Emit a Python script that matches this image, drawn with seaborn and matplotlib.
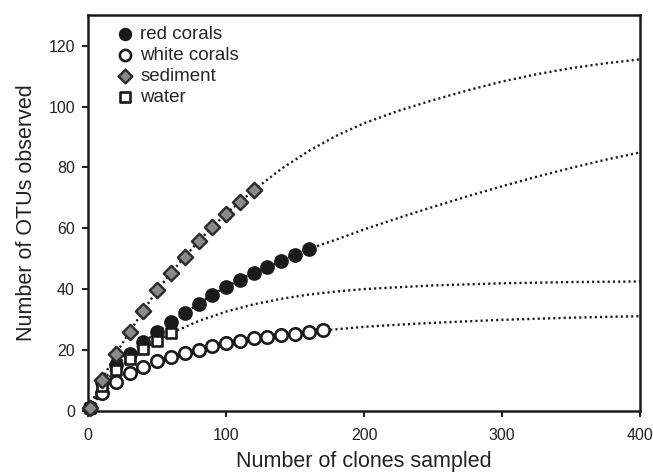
import matplotlib
matplotlib.use("Agg")
import matplotlib.pyplot as plt
import pandas as pd
import seaborn as sns

# ---- observed rarefaction points ----
red_x = [1, 10, 20, 30, 40, 50, 60, 70, 80, 90, 100, 110, 120, 130, 140, 150, 160]
red_y = [1, 9.5, 15.0, 18.8, 22.5, 25.8, 29.2, 32.1, 35.1, 38.2, 40.7, 43.1, 45.3, 47.2, 49.2, 51.2, 53.2]

white_x = [1, 10, 20, 30, 40, 50, 60, 70, 80, 90, 100, 110, 120, 130, 140, 150, 160, 170]
white_y = [1, 5.8, 9.4, 12.4, 14.4, 16.2, 17.7, 19.0, 20.1, 21.2, 22.3, 23.1, 23.9, 24.3, 24.8, 25.3, 25.9, 26.4]

sed_x = [1, 10, 20, 30, 40, 50, 60, 70, 80, 90, 100, 110, 120]
sed_y = [1, 10.2, 18.7, 25.9, 32.9, 39.6, 45.3, 50.6, 55.7, 60.4, 64.8, 68.6, 72.5]

water_x = [1, 10, 20, 30, 40, 50, 60]
water_y = [1, 8.0, 13.5, 17.1, 20.3, 23.1, 25.5]

# ---- extrapolated curves (dotted) ----
red_ext_x = [180, 200, 225, 250, 275, 300, 325, 350, 375, 400]
red_ext_y = [56.3, 59.6, 63.4, 67.0, 70.5, 73.8, 76.9, 79.8, 82.5, 84.9]

white_ext_x = [185, 200, 225, 250, 275, 300, 350, 400]
white_ext_y = [27.0, 27.6, 28.3, 28.9, 29.4, 29.9, 30.6, 31.1]

sed_ext_x = [140, 160, 180, 200, 225, 250, 275, 300, 325, 350, 375, 400]
sed_ext_y = [79.5, 85.4, 90.4, 94.5, 98.6, 102.1, 105.3, 108.2, 110.6, 112.6, 114.2, 115.5]

water_ext_x = [80, 100, 120, 140, 160, 180, 200, 250, 300, 350, 400]
water_ext_y = [29.5, 32.6, 35.0, 36.8, 38.2, 39.2, 40.0, 41.2, 41.9, 42.3, 42.5]

labels = ["red corals", "white corals", "sediment", "water"]

sns.set_style("ticks")
plt.rcParams["font.family"] = ["Liberation Sans", "DejaVu Sans"]

fig = plt.figure(figsize=(6.53, 4.76), dpi=100)
ax = fig.add_axes([0.135, 0.137, 0.845, 0.831])

series = [
    ("red corals", red_x, red_y, red_ext_x, red_ext_y),
    ("white corals", white_x, white_y, white_ext_x, white_ext_y),
    ("water", water_x, water_y, water_ext_x, water_ext_y),
    ("sediment", sed_x, sed_y, sed_ext_x, sed_ext_y),
]

for name, x, y, ex, ey in series:
    line_df = pd.DataFrame({"x": list(x) + list(ex), "y": list(y) + list(ey)})
    sns.lineplot(data=line_df, x="x", y="y", ax=ax, color="#1a1a1a",
                 linewidth=1.7, linestyle=(0, (0.9, 1.3)), sort=False,
                 estimator=None, zorder=2)

styles = {
    "red corals": dict(marker="o", s=88, color="#1a1a1a", edgecolor="#1a1a1a", linewidth=1.2),
    "white corals": dict(marker="o", s=80, color="white", edgecolor="#1a1a1a", linewidth=1.9),
    "water": dict(marker="s", s=62, color="white", edgecolor="#1a1a1a", linewidth=1.9),
    "sediment": dict(marker="D", s=60, color="#8a8a8a", edgecolor="#2a2a2a", linewidth=1.7),
}

for name, x, y, ex, ey in series:
    df = pd.DataFrame({"x": x, "y": y})
    sns.scatterplot(data=df, x="x", y="y", ax=ax, zorder=3, label=name,
                    clip_on=False, **styles[name])

h, l = ax.get_legend_handles_labels()
hm = dict(zip(l, h))
leg = ax.legend([hm[k] for k in labels], labels, loc="upper left",
                frameon=False, fontsize=13.5, handlelength=1.0,
                handletextpad=0.3, labelspacing=0.2, borderaxespad=0.0,
                markerscale=0.9, bbox_to_anchor=(0.037, 0.992))

ax.set_xlim(0, 400)
ax.set_ylim(0, 130)
ax.set_xticks([0, 100, 200, 300, 400])
ax.set_yticks([0, 20, 40, 60, 80, 100, 120])
ax.set_xlabel("Number of clones sampled", fontsize=15.5, labelpad=6, color="#222222")
ax.set_ylabel("Number of OTUs observed", fontsize=15.5, labelpad=8, color="#222222")
ax.tick_params(axis="both", direction="out", length=4.5, width=1.5,
               labelsize=11.5, colors="#222222")
ax.tick_params(axis="y", pad=5)
ax.tick_params(axis="x", pad=8)
for sp in ax.spines.values():
    sp.set_visible(True)
    sp.set_linewidth(1.8)
    sp.set_color("#1a1a1a")

fig.savefig("out.png", dpi=100)
